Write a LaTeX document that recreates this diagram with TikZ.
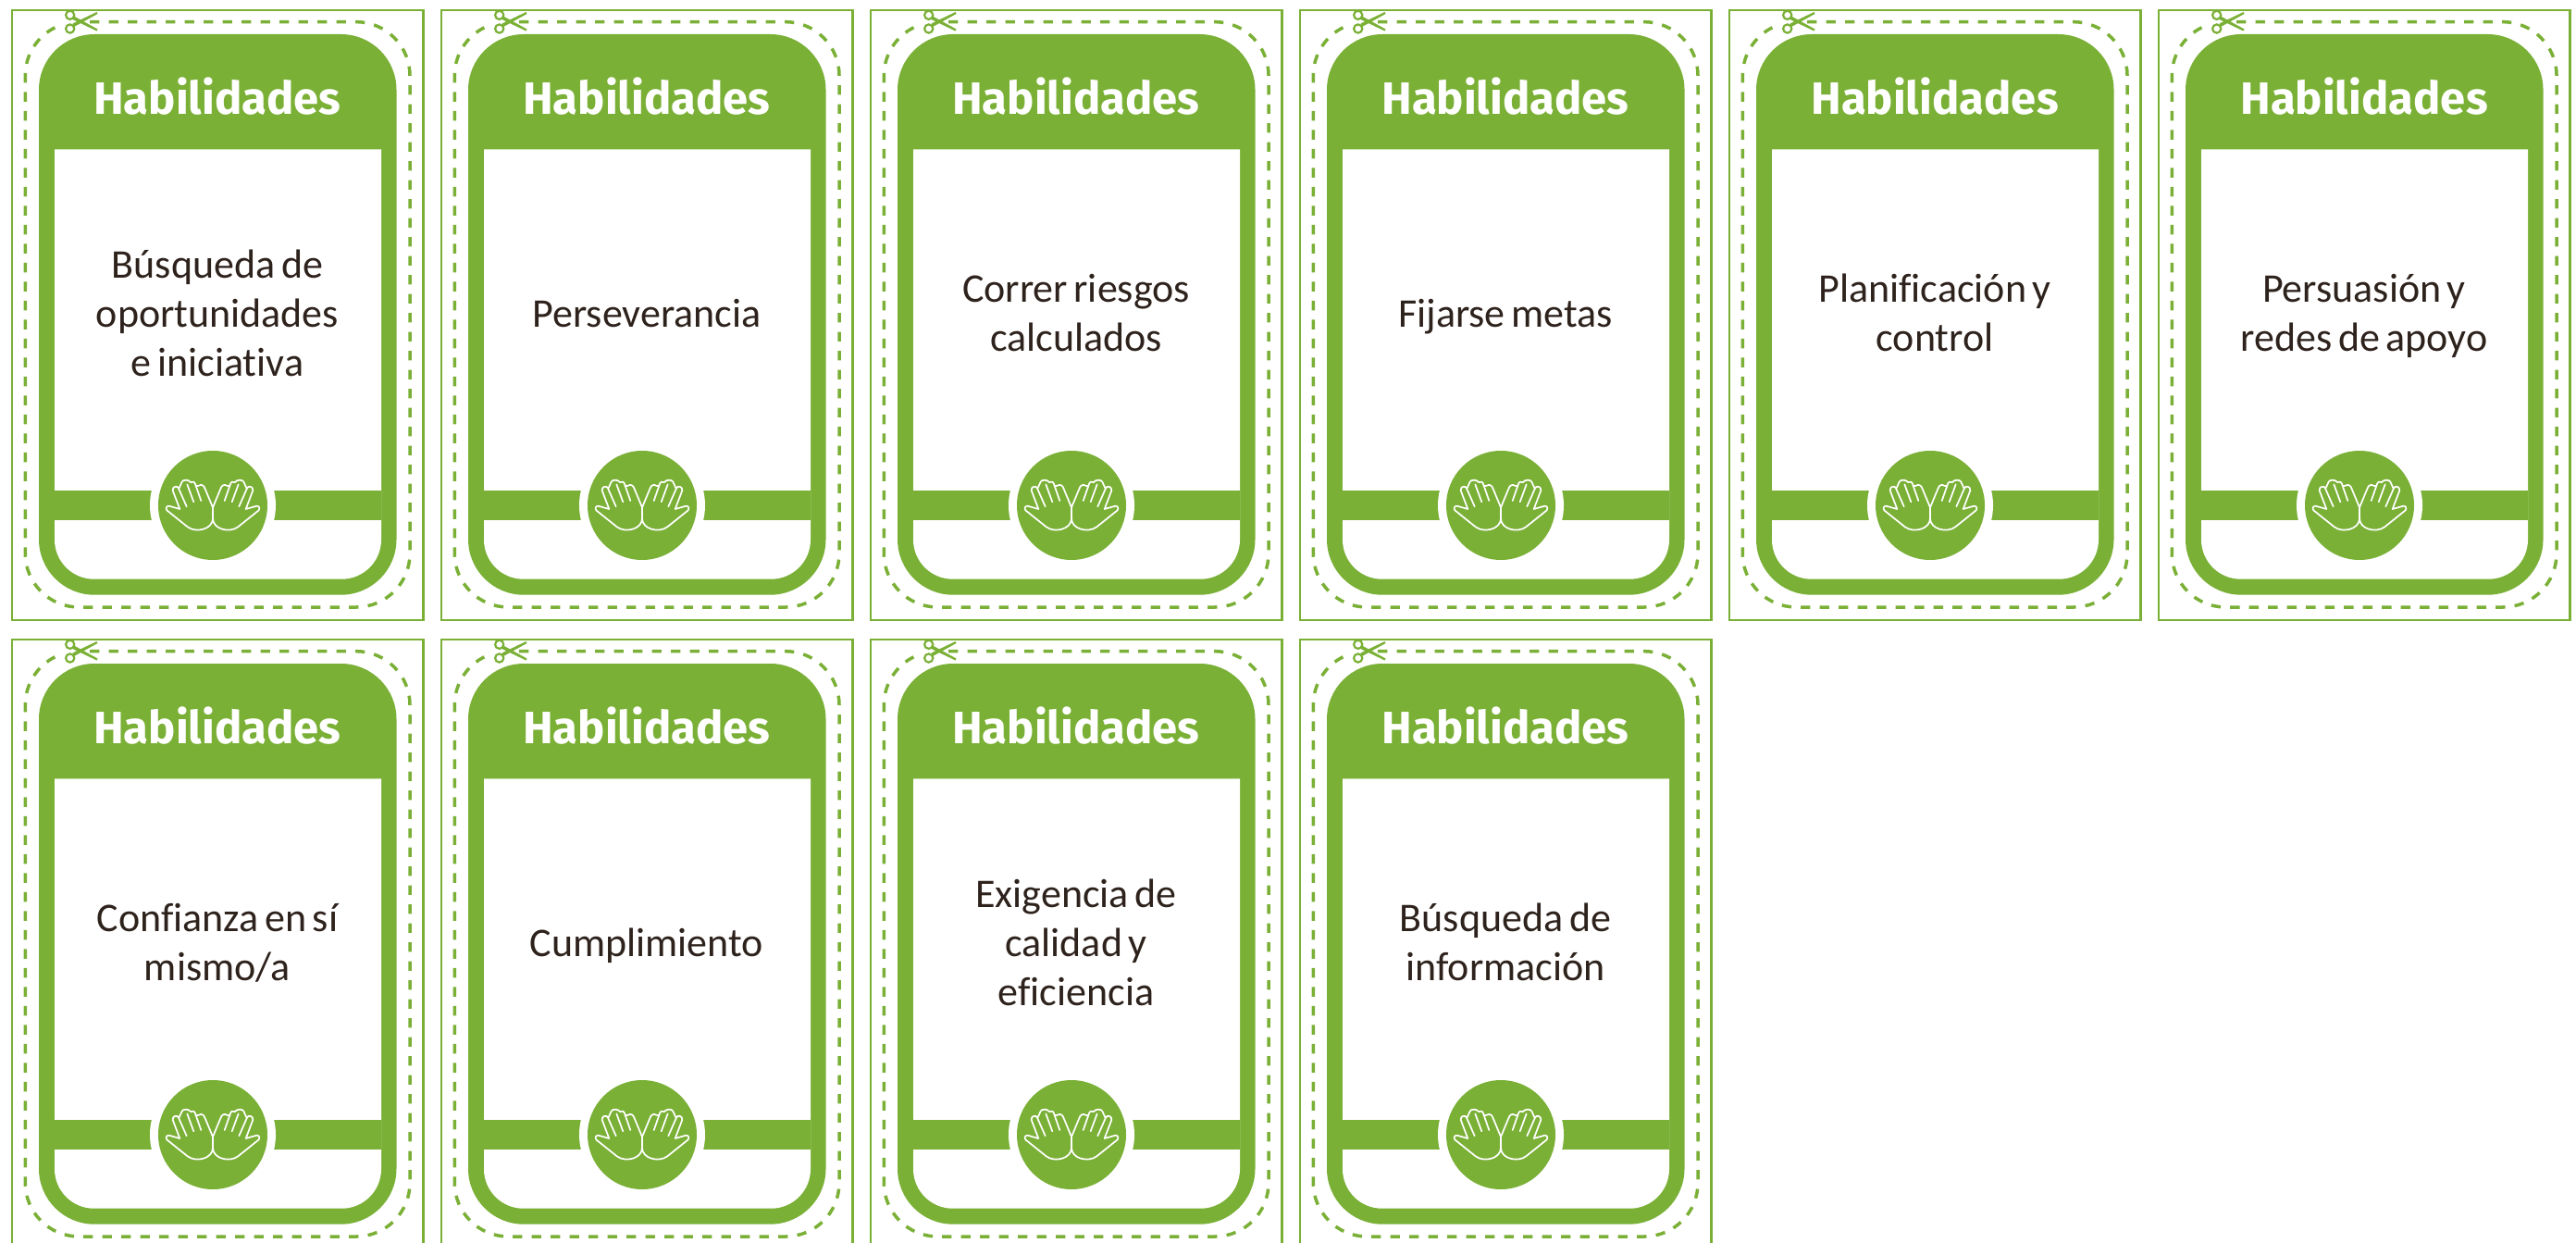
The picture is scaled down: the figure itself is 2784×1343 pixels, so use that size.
\documentclass[tikz,border=0pt]{standalone}
\usepackage{fontspec}
\setmainfont{Fira Sans}
\newfontfamily\bodyfont[Ligatures=NoCommon]{Carlito}
\definecolor{cardgreen}{HTML}{7AB036}
\definecolor{inktext}{HTML}{2E221C}
\tikzset{
  x=0.5pt,y=-0.5pt,
  framebox/.style={draw=cardgreen,line width=1.35pt},
  cutline/.style={draw=cardgreen,line width=1.75pt,dash pattern=on 5.15pt off 5.1pt},
  cardtitle/.style={text=white,font=\fontsize{24.5}{28}\selectfont\bfseries,anchor=center,inner sep=0pt},
  cardtext/.style={text=inktext,font=\bodyfont\fontsize{22}{26.5}\selectfont,align=center,anchor=center,inner sep=0pt,text width=170pt},
  badge/.style={circle,fill=cardgreen,minimum size=59pt,inner sep=0pt},
  handline/.style={draw=white,line width=0.85pt,line cap=round,line join=round},
}
% #1 name, #2 column, #3 row, #4 text
\newcommand{\habcard}[4]{%
 \begin{scope}[shift={({464*#2},{680*#3})}]
  \draw[framebox] (13,11) rectangle (457.5,670);
  \fill[cardgreen,rounded corners=30pt] (42,37) rectangle (428.5,642.7);
  \fill[white] (59,161.3) -- (412,161.3) -- (412,583) arc[start angle=0,end angle=90,radius=42.7] -- (101.7,625.7) arc[start angle=90,end angle=180,radius=42.7] -- cycle;
  \fill[cardgreen] (59,530) rectangle (412,561.7);
  \fill[white] (230,546) circle[radius=68];
  \node[badge] (#1-badge) at (230,546) {};
  \node[cardtitle] (#1-title) at (235,104.5) {Habilidades};
  \node[cardtext] (#1-text) at (235,342.7) {\spaceskip=0.15em\relax\strut #4\strut};
  \draw[cutline] (97,23.7) -- (385,23.7) arc[start angle=-90,end angle=0,radius=58]
     -- (443,598) arc[start angle=0,end angle=90,radius=58]
     -- (85.3,656) arc[start angle=90,end angle=180,radius=58]
     -- (27.3,81.7) arc[start angle=180,end angle=250,radius=58];
  % scissors
  \fill[cardgreen] (80,17.5) -- (105.5,31.5) -- (104.5,33.5) -- (78.5,21) -- cycle;
  \fill[cardgreen] (80,29) -- (105.5,15) -- (104.5,13) -- (78.5,25.5) -- cycle;
  \draw[cardgreen,line width=1.1pt] (75.7,16.3) circle[radius=4.6];
  \draw[cardgreen,line width=1.1pt] (75.7,31) circle[radius=4.6];
  % hands
  \begin{scope}[shift={(230,546)}]
   \foreach \sx in {1,-1}{
    \begin{scope}[xscale=\sx]
     \draw[handline] (0,2.3) -- (-8.3,-17.7) .. controls (-9.5,-22) and (-13,-23) .. (-14.5,-21.5)
       .. controls (-16,-20.5) and (-18,-21) .. (-18.3,-21)
       .. controls (-19,-25.5) and (-22,-26.5) .. (-24,-25)
       .. controls (-26,-28) and (-32,-28) .. (-33.3,-25.5)
       -- (-36.7,-18)
       .. controls (-38,-22) and (-44,-20.5) .. (-43.3,-16)
       -- (-35.7,4) -- (-47,0.8) .. controls (-50,0) and (-51.5,3.5) .. (-49.5,5.5)
       -- (-27,23.5) .. controls (-18,30) and (0,26) .. (0,14) -- cycle;
     \draw[handline] (-36.7,-17.7) -- (-28.3,1.3);
     \draw[handline] (-27.7,-22.7) -- (-20.7,-3.7);
     \draw[handline] (-18.3,-21) -- (-12.7,-5);
    \end{scope}
   }
  \end{scope}
 \end{scope}
}
\begin{document}
\begin{tikzpicture}
 \useasboundingbox (0,0) rectangle (2784,1343);
 \fill[white] (0,0) rectangle (2784,1343);
 \habcard{c1}{0}{0}{Búsqueda de\\oportunidades\\e iniciativa}
 \habcard{c2}{1}{0}{Perseverancia}
 \habcard{c3}{2}{0}{Correr riesgos\\calculados}
 \habcard{c4}{3}{0}{Fijarse metas}
 \habcard{c5}{4}{0}{Planificación y\\control}
 \habcard{c6}{5}{0}{Persuasión y\\redes de apoyo}
 \habcard{c7}{0}{1}{Confianza en sí\\mismo/a}
 \habcard{c8}{1}{1}{Cumplimiento}
 \habcard{c9}{2}{1}{Exigencia de\\calidad y\\eficiencia}
 \habcard{c10}{3}{1}{Búsqueda de\\información}
\end{tikzpicture}
\end{document}
